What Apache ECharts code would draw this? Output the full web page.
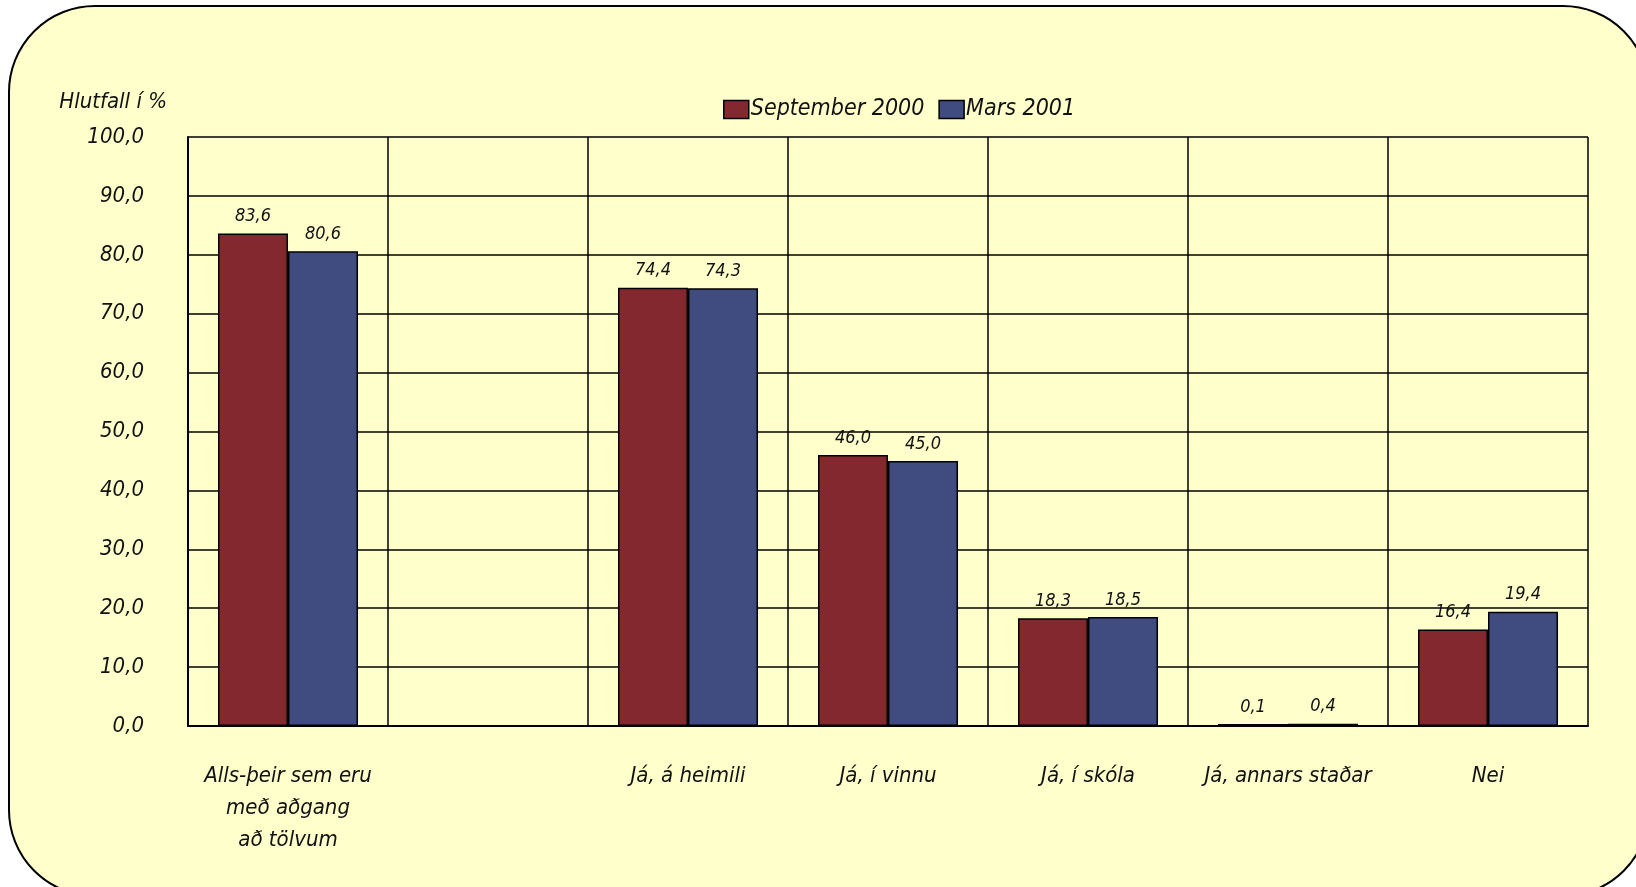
<!DOCTYPE html>
<html>
<head>
<meta charset="utf-8">
<script src="https://cdn.jsdelivr.net/npm/echarts@6/dist/echarts.min.js"></script>
<style>
    html, body { margin: 0; padding: 0; background: #ffffff; }
    #chart { width: 1636px; height: 887px; }
</style>
</head>
<body>
<div id="chart"></div>
<script>
// Tölvuaðgangur - hlutfall í %
const categories = [
    'Alls-þeir sem eru\nmeð aðgang\nað tölvum',
    '',
    'Já, á heimili',
    'Já, í vinnu',
    'Já, í skóla',
    'Já, annars staðar',
    'Nei'
];
const sept2000 = [83.6, null, 74.4, 46.0, 18.3, 0.1, 16.4];
const mars2001 = [80.6, null, 74.3, 45.0, 18.5, 0.4, 19.4];
const seriesNames = ['September 2000', 'Mars 2001'];

const FONT = "'Liberation Sans Narrow', 'DejaVu Sans Condensed', 'Liberation Sans', sans-serif";
const fmt = v => v.toFixed(1).replace('.', ',');

const chart = echarts.init(document.getElementById('chart'), null, { renderer: 'canvas' });

const labelStyle = {
    show: true,
    position: 'top',
    distance: 8,
    fontFamily: FONT,
    fontStyle: 'italic',
    fontSize: 18,
    color: '#111',
    formatter: p => fmt(p.value)
};

chart.setOption({
    backgroundColor: '#ffffff',
    textStyle: { fontFamily: FONT },
    graphic: [{
        type: 'rect',
        z: -10,
        silent: true,
        shape: { x: 9, y: 6, width: 1640, height: 890, r: 86 },
        style: { fill: '#ffffcc', stroke: '#000', lineWidth: 2 }
    }],
    legend: {
        data: seriesNames,
        left: 718,
        top: 93,
        icon: 'rect',
        itemWidth: 25,
        itemHeight: 18,
        itemGap: 14,
        itemStyle: { borderColor: '#000', borderWidth: 1.5 },
        textStyle: { fontFamily: FONT, fontStyle: 'italic', fontSize: 23, color: '#111', padding: [0, 0, 0, -3] }
    },
    grid: { left: 188, top: 137, width: 1400, height: 589 },
    xAxis: {
        type: 'category',
        data: categories,
        axisLine: { show: true, lineStyle: { color: '#000', width: 2 } },
        axisTick: { show: false },
        splitLine: { show: true, interval: 0, lineStyle: { color: '#000', width: 1.5 } },
        axisLabel: {
            interval: 0,
            margin: 34,
            fontFamily: FONT,
            fontStyle: 'italic',
            fontSize: 22,
            lineHeight: 32,
            color: '#111'
        }
    },
    yAxis: {
        type: 'value',
        min: 0,
        max: 100,
        interval: 10,
        name: 'Hlutfall í %',
        nameLocation: 'end',
        nameGap: 24,
        nameTextStyle: { fontFamily: FONT, fontStyle: 'italic', fontSize: 22, color: '#111', align: 'right', padding: [0, 21, 0, 0] },
        axisLine: { show: true, lineStyle: { color: '#000', width: 2 } },
        axisTick: { show: false },
        splitLine: { show: true, lineStyle: { color: '#000', width: 1.5 } },
        axisLabel: {
            margin: 44,
            fontFamily: FONT,
            fontStyle: 'italic',
            fontSize: 22,
            color: '#111',
            formatter: v => fmt(v)
        }
    },
    series: [
        {
            name: seriesNames[0],
            type: 'bar',
            data: sept2000,
            barWidth: 70,
            barGap: '0%',
            barMinHeight: 2,
            itemStyle: { color: '#83282e', borderColor: '#000', borderWidth: 1.5 },
            label: labelStyle
        },
        {
            name: seriesNames[1],
            type: 'bar',
            data: mars2001,
            barWidth: 70,
            barGap: '0%',
            barMinHeight: 2,
            itemStyle: { color: '#404c80', borderColor: '#000', borderWidth: 1.5 },
            label: labelStyle
        }
    ]
});
</script>
</body>
</html>
